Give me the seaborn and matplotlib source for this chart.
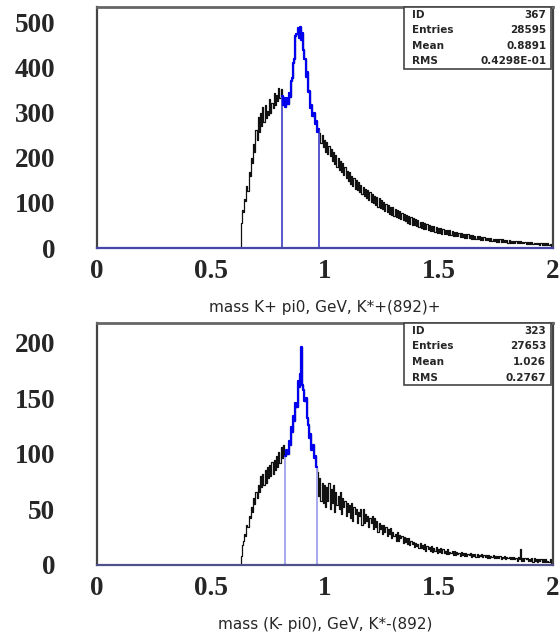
import numpy as np
import pandas as pd
import matplotlib
matplotlib.use('Agg')
import matplotlib.pyplot as plt
import seaborn as sns
from matplotlib.patches import Rectangle

# 5 MeV bins from 0 to 2 GeV, both histograms are empty below 0.63 GeV
n_empty = 126

# K+ pi0 counts per bin, 0.630 .. 1.995 GeV
kplus_counts = [
    55, 84, 80, 108, 104, 138, 126, 168, 160, 200, 188, 230, 214, 262, 240, 290, 258, 300,
    270, 312, 280, 318, 288, 304, 296, 330, 300, 322, 310, 344, 318, 340, 326, 356, 334, 352,
    # signal window 0.810 .. 0.970
    338, 318, 334, 312, 332, 320, 344, 336, 370, 378, 410, 420, 470, 476, 488, 466, 490,
    462, 478, 440, 420, 380, 390, 346, 348, 310, 318, 292, 300, 276, 282, 258, 264,
    # tail 0.975 .. 1.995
    256, 232, 250, 224, 240, 214, 236, 208, 226, 204,
    220, 194, 214, 186, 206, 180, 200, 174, 194, 168,
    188, 162, 180, 156, 172, 148, 168, 142, 160, 138,
    156, 132, 150, 128, 146, 124, 140, 120, 136, 116,
    132, 112, 128, 106, 124, 102, 120, 100, 116, 96,
    114, 92, 110, 88, 106, 86, 102, 82, 98, 80,
    96, 76, 92, 74, 90, 70, 86, 68, 84, 66,
    82, 64, 78, 62, 76, 60, 74, 56, 70, 54,
    68, 52, 66, 50, 64, 48, 62, 46, 58, 44,
    58, 43, 55, 42, 53, 40, 51, 38, 49, 37,
    48, 36, 47, 34, 45, 33, 44, 32, 42, 31,
    41, 30, 40, 29, 39, 28, 37, 27, 36, 26,
    35, 26, 34, 25, 33, 24, 32, 23, 31, 22,
    30, 22, 29, 21, 28, 20, 27, 20, 26, 19,
    26, 18, 25, 18, 24, 17, 23, 17, 22, 16,
    22, 16, 21, 15, 21, 14, 20, 14, 19, 14,
    19, 13, 18, 13, 18, 12, 17, 12, 16, 12,
    16, 11, 16, 11, 15, 10, 15, 10, 14, 10,
    14, 9, 14, 9, 13, 9, 13, 8, 12, 8,
    12, 8, 12, 7, 11, 7, 11, 7, 10, 6,
    10, 6, 9, 5, 8,
]

# K- pi0 counts per bin, 0.630 .. 1.995 GeV
kminus_counts = [
    8, 18, 22, 28, 26, 36, 34, 44, 42, 52, 48, 60, 55, 66, 60, 72, 66, 80, 70, 82,
    72, 86, 74, 88, 78, 90, 80, 93, 82, 95, 86, 98, 88, 102, 92, 106, 96, 108, 100,
    # signal window 0.825 .. 0.960
    98, 104, 100, 112, 108, 124, 120, 134, 130, 146, 142, 166, 160, 172, 196,
    162, 158, 148, 150, 132, 126, 114, 118, 104, 108, 96, 98, 88,
    # tail 0.965 .. 1.995
    84, 62, 78, 58, 74, 56, 72, 52, 70, 58,
    74, 50, 68, 56, 72, 48, 66, 54, 62, 50,
    66, 46, 60, 52, 58, 44, 56, 48, 54, 42,
    56, 40, 52, 46, 50, 38, 48, 44, 50, 36,
    50, 38, 46, 40, 44, 34, 42, 38, 44, 32,
    42, 34, 40, 30, 38, 32, 36, 28, 36, 30,
    34, 26, 32, 28, 33, 24, 30, 26, 28, 22,
    30, 22, 27, 24, 26, 20, 25, 21, 24, 19,
    24, 18, 22, 19, 21, 16, 20, 17, 19, 15,
    20, 15, 18, 14, 19, 13, 17, 14, 16, 13,
    17, 12, 15, 13, 16, 11, 14, 12, 15, 11,
    14, 11, 13, 10, 14, 10, 12, 11, 13, 9,
    13, 9, 12, 10, 11, 8, 12, 9, 11, 8,
    11, 8, 10, 9, 11, 7, 10, 8, 10, 7,
    10, 7, 9, 8, 10, 7, 9, 7, 9, 6,
    9, 6, 8, 7, 9, 6, 8, 6, 8, 6,
    8, 5, 7, 6, 8, 5, 7, 6, 7, 5,
    7, 5, 7, 5, 6, 4, 7, 5, 14, 4,
    6, 4, 6, 5, 6, 4, 5, 4, 6, 3,
    6, 4, 5, 3, 5, 4, 5, 3, 5, 3,
    5, 3, 4, 3, 5, 2, 4,
]

kplus_window = (0.81, 0.975)
kminus_window = (0.825, 0.965)

kplus_stats = [('ID', '367'), ('Entries', '28595'), ('Mean', '0.8891'), ('RMS', '0.4298E-01')]
kminus_stats = [('ID', '323'), ('Entries', '27653'), ('Mean', '1.026'), ('RMS', '0.2767')]

kplus_yticks = [0, 100, 200, 300, 400, 500]
kminus_yticks = [0, 50, 100, 150, 200]
xticks = [0, 0.5, 1, 1.5, 2]
xtick_labels = ['0', '0.5', '1', '1.5', '2']

kplus_xlabel = 'mass K+ pi0, GeV, K*+(892)+'
kminus_xlabel = 'mass (K- pi0), GeV, K*-(892)'

edges = np.linspace(0, 2, 401)
centers = edges[:-1] + 0.0025


def draw_panel(ax, counts, window, stats, xlabel, ymax, yticks, edge_color, base_color):
    full = np.concatenate([np.zeros(n_empty), counts])
    df = pd.DataFrame({'mass': centers, 'n': full})
    in_win = (df['mass'] > window[0]) & (df['mass'] < window[1])
    df['win'] = np.where(in_win, df['n'], 0)
    win_edges = edges[(edges > window[0] - 1e-6) & (edges < window[1] + 1e-6)]

    sns.histplot(data=df, x='mass', weights='n', bins=list(edges), element='step',
                 fill=False, color='#111111', lw=0.9, ax=ax)
    sns.histplot(data=df, x='mass', weights='win', bins=list(edges), element='step',
                 fill=False, color=edge_color, lw=1.3, ax=ax)
    sns.histplot(data=df[in_win], x='mass', weights='n', bins=list(win_edges), element='step',
                 fill=False, color='#0000ee', lw=1.6, ax=ax)

    ax.set_xlim(0, 2)
    ax.set_ylim(0, ymax)
    ax.set_xticks(xticks)
    ax.set_xticklabels(xtick_labels)
    ax.set_yticks(yticks)
    ax.set_ylabel('')
    ax.set_xlabel(xlabel, fontsize=11, family='DejaVu Sans')
    ax.xaxis.set_label_coords(0.5, -0.245)
    ax.xaxis.label.set_va('center')

    for lab in ax.get_xticklabels() + ax.get_yticklabels():
        lab.set_family('Liberation Serif')
        lab.set_weight('bold')
        lab.set_fontsize(19.5)
    ax.tick_params(axis='both', direction='in', length=8, width=1.3, color='#444')
    ax.tick_params(axis='y', pad=30)
    ax.tick_params(axis='x', pad=8)
    for s in ax.spines.values():
        s.set_color('#444')
        s.set_linewidth(1.6)
    ax.spines['top'].set_color('#666')
    ax.spines['top'].set_linewidth(2.0)
    ax.spines['bottom'].set_color(base_color)

    # statistics box
    box_x0, box_y0 = 0.673, 0.742
    ax.add_patch(Rectangle((box_x0, box_y0), 0.996 - box_x0, 1.0 - box_y0,
                           transform=ax.transAxes, fill=True, fc='white',
                           ec='#444', lw=1.2, clip_on=False, zorder=5))
    row_h = (1.0 - box_y0) / 4
    for i, (name, val) in enumerate(stats):
        yy = 1.0 - row_h * (i + 0.5)
        ax.text(box_x0 + 0.018, yy, name, transform=ax.transAxes, ha='left', va='center',
                fontsize=7.5, weight='bold', family='DejaVu Sans', zorder=6)
        ax.text(0.985, yy, val, transform=ax.transAxes, ha='right', va='center',
                fontsize=7.5, weight='bold', family='DejaVu Sans', zorder=6)


sns.set_style('white')
fig = plt.figure(figsize=(5.6, 6.41), dpi=100)
ax1 = fig.add_axes([0.1732, 0.6131, 0.8143, 0.376])
ax2 = fig.add_axes([0.1732, 0.1186, 0.8143, 0.3775])

draw_panel(ax1, kplus_counts, kplus_window, kplus_stats, kplus_xlabel, 535, kplus_yticks,
           '#4a4ac8', '#4545a8')
draw_panel(ax2, kminus_counts, kminus_window, kminus_stats, kminus_xlabel, 218, kminus_yticks,
           '#a0a0f0', '#50508c')

fig.savefig('out.png', dpi=100)
